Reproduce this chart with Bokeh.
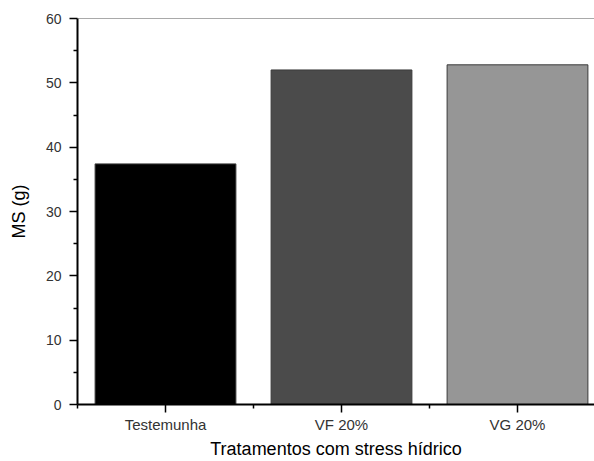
from bokeh.plotting import figure
from bokeh.models import Range1d, FixedTicker, Span
from bokeh.embed import file_html
from bokeh.resources import INLINE

categories = ["Testemunha", "VF 20%", "VG 20%"]
values = [37.4, 52.0, 52.8]
colors = ["#000000", "#4b4b4b", "#969696"]
y_ticks = [0, 10, 20, 30, 40, 50, 60]
y_minor = [5, 15, 25, 35, 45, 55]

xs = [i + 1 for i in range(len(categories))]

p = figure(width=594, height=461, output_backend="svg", toolbar_location=None,
           x_range=Range1d(0.5, 3.4375), y_range=Range1d(0, 60),
           min_border_left=77, min_border_right=0, min_border_top=18, min_border_bottom=57)
p.outline_line_color = None
p.grid.grid_line_color = None
p.background_fill_color = "white"

p.vbar(x=xs, top=values, width=0.8, bottom=0, fill_color=colors,
       line_color="#3a3a3a", line_width=1)

p.add_layout(Span(location=60, dimension="width", line_color="#555555", line_width=1.2))

xa = p.xaxis[0]
xa.ticker = FixedTicker(ticks=xs, minor_ticks=[0.5, 1.5, 2.5, 3.5])
xa.major_label_overrides = {x: c for x, c in zip(xs, categories)}
ya = p.yaxis[0]
ya.ticker = FixedTicker(ticks=y_ticks, minor_ticks=y_minor)

for ax in (xa, ya):
    ax.axis_line_width = 2
    ax.axis_line_color = "black"
    ax.major_tick_line_color = "black"
    ax.major_tick_line_width = 1.5
    ax.minor_tick_line_color = "black"
    ax.minor_tick_line_width = 1.5
    ax.major_tick_in = 0
    ax.major_tick_out = 8
    ax.minor_tick_in = 0
    ax.minor_tick_out = 4
    ax.major_label_text_font = "Liberation Sans"
    ax.major_label_text_color = "#333333"
    ax.axis_label_text_font = "Liberation Sans"
    ax.axis_label_text_font_style = "normal"
    ax.axis_label_text_color = "black"
    ax.axis_label_text_font_size = "18px"

xa.major_label_text_font_size = "15px"
xa.major_label_standoff = 3
xa.axis_label = "Tratamentos com stress hídrico"
xa.axis_label_standoff = 3
ya.major_label_text_font_size = "14px"
ya.major_label_standoff = 8
ya.axis_label = "MS (g)"
ya.axis_label_standoff = 14

open("out.html", "w").write(file_html(p, INLINE))
